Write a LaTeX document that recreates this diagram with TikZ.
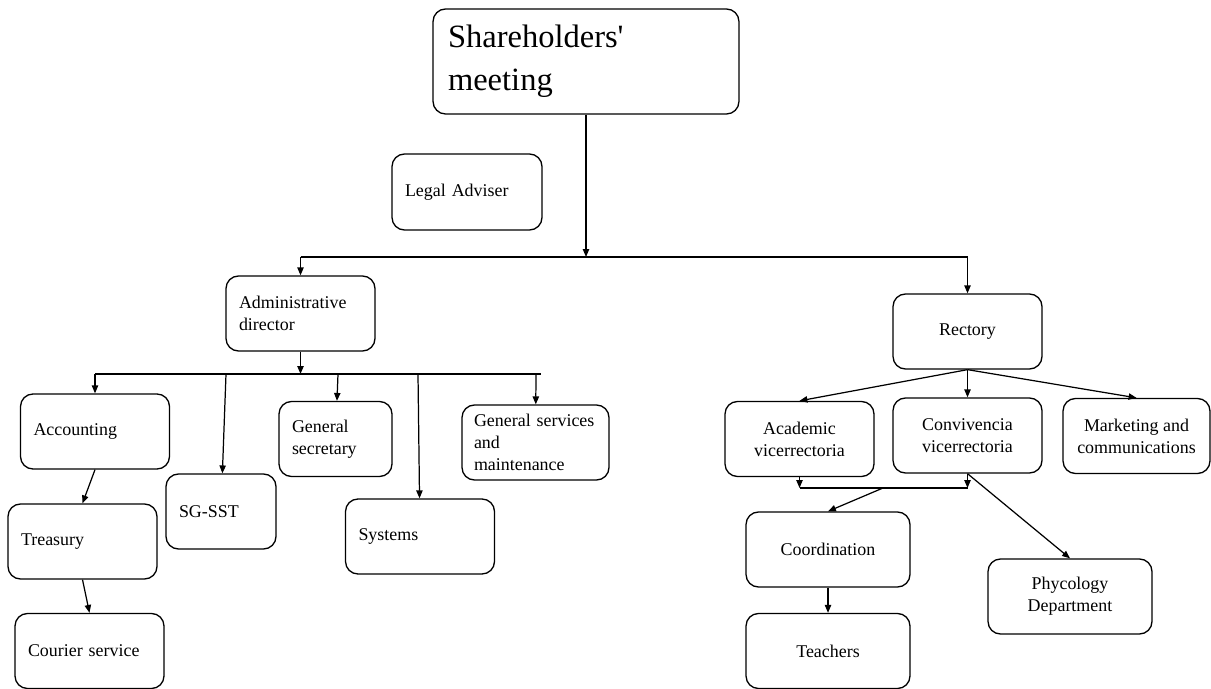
\documentclass[tikz,border=0pt]{standalone}
\usepackage{fontspec}
\setmainfont{Liberation Serif}
\usepackage{tikz}
\usetikzlibrary{positioning,arrows.meta}

\begin{document}
\begin{tikzpicture}[x=0.02cm, y=-0.02cm, line width=0.7pt,
  box/.style={draw, line width=0.75pt, rounded corners=0.25cm, inner xsep=0.26cm, inner ysep=2pt, font=\fontsize{10.2}{12.5}\selectfont},
  lbox/.style={box, align=left, text width=2.46cm, minimum height=1.5cm},
  cbox/.style={box, align=center, minimum width=2.98cm, minimum height=1.5cm},
  arr/.style={-{Triangle[length=4.5pt,width=3.6pt]}}]
\useasboundingbox (0,0) rectangle (1211,689);

\node[lbox, text width=5.52cm, inner xsep=0.3cm, minimum height=2.1cm, font=\fontsize{18.5}{24.4}\selectfont] (share) at (586,61.5) {Shareholders\textquotesingle\\meeting};
\node[lbox, text width=2.48cm, minimum height=1.52cm] (legal) at (467,192) {Legal Adviser};
\node[lbox] (admin) at (300.5,313.5) {Administrative\\director};
\node[lbox] (acc) at (95,431.5) {Accounting};
\node[lbox] (treas) at (82.5,541.5) {Treasury};
\node[lbox] (courier) at (89.5,651) {Courier service};
\node[lbox, text width=1.68cm] (sgsst) at (221,511.5) {SG-SST};
\node[lbox, text width=1.74cm] (gensec) at (335.5,439) {General\\secretary};
\node[lbox] (systems) at (420,536.5) {Systems};
\node[lbox, text width=2.46cm, inner xsep=0.24cm] (gensrv) at (535.5,442.5) {General services\\and\\maintenance};

\node[cbox] (rect) at (967.5,331.5) {Rectory};
\node[cbox] (acad) at (799.5,439) {Academic\\vicerrectoria};
\node[cbox] (conv) at (967.5,435.5) {Convivencia\\vicerrectoria};
\node[cbox, minimum width=2.94cm] (mkt) at (1136.5,436) {Marketing and\\communications};
\node[cbox, minimum width=3.28cm] (coord) at (828,549.5) {Coordination};
\node[cbox, minimum width=3.28cm] (teach) at (828,651) {Teachers};
\node[cbox, minimum width=3.28cm] (psy) at (1070,596.5) {Phycology\\Department};

\coordinate (topL) at (300.5,257);
\coordinate (topM) at (586,257);
\coordinate (topR) at (967.5,257);
\coordinate (admB) at (300.5,374);
\coordinate (busA) at (95,374);
\coordinate (busB) at (226,374);
\coordinate (busC) at (338,374);
\coordinate (busD) at (418,374);
\coordinate (busE) at (536,374);
\coordinate (busEnd) at (541,374);
\coordinate (vL) at (799.5,488);
\coordinate (vM) at (883,488);
\coordinate (vR) at (967.5,488);

\draw
	(share) edge[arr] (topM)
	(topL) edge (topR)
	(topL) edge[arr] (admin)
	(topR) edge[arr] (rect)
	(admin) edge[arr] (admB)
	(busA) edge (busEnd)
	(busA) edge[arr] (acc)
	(busB) edge[arr] (sgsst)
	(busC) edge[arr] (gensec)
	(busD) edge[arr] (systems)
	(busE) edge[arr] (gensrv)
	(acc.south) edge[arr] (treas.north)
	(treas.south) edge[arr] (courier.north)
	(rect.south) edge[arr] (acad.north)
	(rect) edge[arr] (conv)
	(rect.south) edge[arr] (mkt.north)
	(acad) edge[arr] (vL)
	(conv) edge[arr] (vR)
	(vL) edge (vR)
	(vM) edge[arr] (coord.north)
	(conv.south) edge[arr] (psy.north)
	(coord) edge[arr] (teach)
;
\end{tikzpicture}
\end{document}
